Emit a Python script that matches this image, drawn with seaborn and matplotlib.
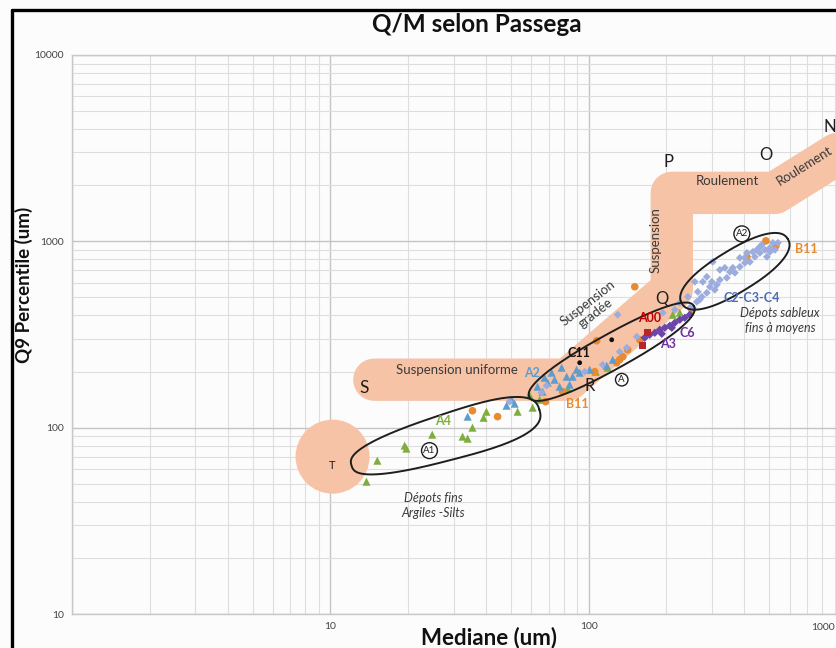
import numpy as np
import pandas as pd
import matplotlib
matplotlib.use("Agg")
import matplotlib.pyplot as plt
from matplotlib.lines import Line2D
from matplotlib.ticker import FixedLocator, FixedFormatter, LogLocator, NullFormatter
import seaborn as sns

# ---------------------------------------------------------------
# Samples: median grain size M (um) and Q9 percentile (um)
# ---------------------------------------------------------------
green_med = [13.8, 15.2, 19.4, 19.7, 24.8, 32.5, 34.0, 35.5, 39.2, 40.2, 53.1, 60.7,
             59.0, 64.6, 83.0, 106.4, 118.5, 211.7, 225.3]
green_q9 = [51.3, 66.5, 80.1, 77.2, 91.7, 89.5, 87.3, 100, 113, 121.8, 121.8, 128,
            150, 141.3, 161.9, 199.7, 209.8, 403.6, 413.7]

orange_med = [35.5, 44.4, 68.1, 79.3, 105.5, 107.4, 128.4, 135.5, 141.6, 150.8, 131.8,
              157.7, 250.7, 409.6, 485.3, 530.6]
orange_q9 = [123.3, 114.6, 137.9, 156.0, 199.7, 292.8, 223.1, 240.3, 261.9, 570.3, 231.6,
             296.3, 429.3, 826, 1006, 945]

blue_med = [34.0, 48.1, 50.3, 51.7, 63.4, 66.3, 71.9, 73.8, 77.2, 82.2, 86.7, 89.8,
            92.3, 84.4, 69.4, 100.9, 117.4, 123.9, 67.5, 78.6]
blue_q9 = [114.6, 131.2, 141.3, 134.5, 165.9, 156.0, 197.2, 180.9, 165.9, 187.7, 187.7,
           204.6, 197.2, 170.1, 174.3, 204.6, 215.0, 231.6, 185.4, 209.8]

lav_med = [65.7, 68.7, 49.4, 129.5, 153.5, 140.4, 131.8, 193.6, 215.5, 225.3, 253.0,
           113.3, 96.5, 262.2, 274.2, 286.6, 294.5, 264.5, 276.6, 313.4, 322.0, 342.6,
           352.0, 368.1, 384.8, 402.5, 420.7, 439.8, 460.0, 481.0, 503.0, 516.6, 432.2,
           489.6, 322.0, 286.6, 257.5, 409.6, 302.4, 460.0, 526.0, 384.8, 336.6, 242.0,
           269.0, 307.8, 361.5, 402.5, 447.9, 468.2, 503.0, 540.4, 299.8, 246.3]
lav_q9 = [154.1, 168.0, 137.9, 403.6, 307.6, 268.5, 255.6, 413.7, 429.3, 467.9, 440.0,
          217.7, 199.7, 473.8, 504, 529.6, 570.3, 536, 606.5, 584.5, 621.7, 637,
          686, 678, 730, 767, 776, 826, 867, 900, 923, 982, 878,
          826, 703, 645, 606.5, 867, 776, 934, 900, 815, 721, 504,
          486, 549.5, 721, 815, 900, 958, 878, 982, 606.5, 440]

purple_med = [172.4, 180.3, 188.4, 197.1, 206.1, 215.5, 225.3, 235.6, 191.9, 209.8, 246.3, 164.8]
purple_q9 = [315.3, 323, 335.4, 343.7, 352.2, 365.6, 379.5, 388.9, 319, 343.7, 403.6, 303.8]

red_med = [169.3, 161.9]
red_q9 = [323, 275]

black_med = [92.3, 122.8]
black_q9 = [223.1, 296.3]

# Passega C-M reference band (S-R-Q-P-O-N) and point T
band_med = [14.8, 83.0, 209.8, 209.8, 526.0, 1074.0]
band_q9 = [180.9, 180.9, 549.5, 1820.0, 1820.0, 3377.0]
t_med, t_q9 = 10.2, 69.9

x_ticks = [1, 10, 100, 1000]
x_tick_labels = ["", "10", "100", "1000"]
y_ticks = [10, 100, 1000, 10000]
y_tick_labels = ["10", "100", "1000", "10000"]

groups = ["A1-A4", "B11", "A2", "C2-C3-C4", "C6-A3", "A00", "C11"]
colors = {"A1-A4": "#7FAE3E", "B11": "#E98A2E", "A2": "#5F9CCE", "C2-C3-C4": "#9CADDD",
          "C6-A3": "#6C45A8", "A00": "#B8262B", "C11": "#111111"}
markers = {"A1-A4": "^", "B11": "o", "A2": "^", "C2-C3-C4": "D",
           "C6-A3": "D", "A00": "s", "C11": "o"}
sizes = {"A1-A4": 34, "B11": 30, "A2": 34, "C2-C3-C4": 16,
         "C6-A3": 18, "A00": 26, "C11": 12}

frames = []
for g, m, q in [("A1-A4", green_med, green_q9), ("B11", orange_med, orange_q9),
                ("A2", blue_med, blue_q9), ("C2-C3-C4", lav_med, lav_q9),
                ("C6-A3", purple_med, purple_q9), ("A00", red_med, red_q9),
                ("C11", black_med, black_q9)]:
    frames.append(pd.DataFrame({"med": m, "q9": q, "groupe": g}))
df = pd.concat(frames, ignore_index=True)
df["taille"] = df["groupe"].map(sizes)

# ---------------------------------------------------------------
sns.set_theme(style="white")
plt.rcParams["font.family"] = ["Lato", "DejaVu Sans"]

W, H, DPI = 836, 648, 100
fig = plt.figure(figsize=(W / DPI, H / DPI), dpi=DPI, facecolor="#FCFCFC")
ax = fig.add_axes([72 / W, 1 - 614 / H, 775 / W, 559 / H])
ax.set_facecolor("#FCFCFC")
ax.set_xscale("log")
ax.set_yscale("log")
ax.set_xlim(1, 1000)
ax.set_ylim(10, 10000)

# grid and ticks; the last x label would fall past the right edge,
# so it is written flush with the edge instead
ax.xaxis.set_major_locator(FixedLocator(x_ticks))
ax.xaxis.set_major_formatter(FixedFormatter(x_tick_labels[:-1] + [""]))
ax.yaxis.set_major_locator(FixedLocator(y_ticks))
ax.yaxis.set_major_formatter(FixedFormatter(y_tick_labels))
for axis in (ax.xaxis, ax.yaxis):
    axis.set_minor_locator(LogLocator(base=10, subs=np.arange(2, 10)))
    axis.set_minor_formatter(NullFormatter())
ax.grid(True, which="major", color="#C4C4C4", lw=1.0, zorder=0)
ax.grid(True, which="minor", color="#DEDEDE", lw=0.8, zorder=0)
ax.tick_params(which="both", length=0, labelsize=7.5, labelcolor="#444444", pad=6)
for sp in ax.spines.values():
    sp.set_color("#C8C8C8")
    sp.set_linewidth(1.0)
ax.set_axisbelow(True)
fig.text(835 / W, 1 - 627 / H, x_tick_labels[-1], fontsize=7.5, color="#444444",
         ha="right", va="center")

band_col = "#F6C3A6"
ax.plot(band_med, band_q9, color=band_col, lw=30.5, solid_capstyle="round",
        solid_joinstyle="round", zorder=1)
ax.scatter([t_med], [t_q9], s=2840, color=band_col, edgecolor="none", zorder=1)


def envelope(center, half_len, half_wid, angle, taper=0.0, n=2.6):
    cx, cy = ax.transData.transform(center)
    t = np.linspace(0, 2 * np.pi, 400)
    c, s = np.cos(t), np.sin(t)
    u = half_len * np.sign(c) * np.abs(c) ** (2 / n)
    v = half_wid * np.sign(s) * np.abs(s) ** (2 / n)
    v = v * (1 + taper * u / half_len)
    a = np.deg2rad(angle)
    X = cx + u * np.cos(a) - v * np.sin(a)
    Y = cy + u * np.sin(a) + v * np.cos(a)
    pts = ax.transData.inverted().transform(np.column_stack([X, Y]))
    ax.plot(pts[:, 0], pts[:, 1], color="#1E1E1E", lw=1.4, zorder=4)


# points
sns.scatterplot(data=df, x="med", y="q9", hue="groupe", style="groupe", size="taille",
                sizes=(12, 34), palette=colors, markers=markers, hue_order=groups,
                style_order=groups, edgecolor="none", linewidth=0, legend=False,
                ax=ax, zorder=3)

envelope((27.9, 88.4), 98, 23, 16.5, taper=0.15, n=2.7)
envelope((122.8, 255.6), 94, 17.5, 29.0, n=2.3)
envelope((368.1, 690.5), 62, 21, 31.5, n=2.3)

txt = "#3A3A3A"
# Passega letters
for lab, x, y, fs in [("S", 13.5, 163.8, 12.5), ("T", 10.2, 62.6, 8), ("R", 100.9, 168.0, 12),
                      ("Q", 191.9, 491.7, 12), ("P", 204.2, 2669, 12), ("O", 485.3, 2909, 12),
                      ("N", 860.0, 4111, 12)]:
    ax.text(x, y, lab, fontsize=fs, color="#1E1E1E", ha="center", va="center", zorder=6)

ax.text(30.8, 204.6, "Suspension uniforme", fontsize=9.5, color=txt, ha="center", va="center", zorder=6)
ax.text(181.9, 1019, "Suspension", fontsize=9.5, color=txt, rotation=90, ha="center", va="center", zorder=6)
ax.text(102.7, 440, "Suspension\ngradée", fontsize=9.5, color=txt, rotation=38, ha="center",
        va="center", linespacing=1.1, zorder=6)
ax.text(345.8, 2110, "Roulement", fontsize=9.5, color=txt, ha="center", va="center", zorder=6)
ax.text(687.6, 2541, "Roulement", fontsize=9.5, color=txt, rotation=32, ha="center", va="center", zorder=6)
ax.text(25.1, 38.2, "Dépots fins\nArgiles -Silts", fontsize=9, style="italic", color=txt,
        ha="center", va="center", linespacing=1.25, zorder=6)
ax.text(549.9, 374.8, "Dépots sableux\nfins à moyens", fontsize=9, style="italic", color=txt,
        ha="center", va="center", linespacing=1.25, zorder=6)

# circled markers
for lab, x, y in [("A1", 24.2, 75.3), ("A", 134.3, 180.9), ("A2", 391.7, 1097)]:
    ax.text(x, y, lab, fontsize=7, color="#1E1E1E", ha="center", va="center", zorder=7,
            bbox=dict(boxstyle="circle,pad=0.18", fc="#FCFCFC", ec="#1E1E1E", lw=1.0))

# group labels
for lab, x, y, col in [("A4", 27.2, 109, "#7FAE3E"), ("A2", 60.1, 197.2, "#5F9CCE"),
                       ("C11", 91.5, 252.6, "#111111"), ("B11", 90.7, 134.5, "#E98A2E"),
                       ("A00", 172.4, 388.9, "#C00000"), ("A3", 202.4, 282, "#7030A0"),
                       ("C6", 241.9, 323, "#7030A0"), ("C2-C3-C4", 428.2, 497.8, "#4A6DB3"),
                       ("B11", 693.4, 911, "#E98A2E")]:
    ax.text(x, y, lab, fontsize=9, fontweight="bold", color=col, ha="center", va="center", zorder=6)

ax.set_xlabel("Mediane (um)", fontsize=16, fontweight="bold", color="#111111")
ax.set_ylabel("Q9 Percentile (um)", fontsize=13.5, fontweight="bold", color="#111111")
ax.xaxis.set_label_coords(0.538, -0.023)
ax.yaxis.set_label_coords(-0.050, 0.589)

fig.text(477 / W, 1 - 25 / H, "Q/M selon Passega", fontsize=17.5, fontweight="bold",
         color="#111111", ha="center", va="center")

# outer frame (left and top edges)
fig.add_artist(Line2D([12 / W, 12 / W], [0, 1 - 10 / H], transform=fig.transFigure,
                      color="black", lw=2.4))
fig.add_artist(Line2D([12 / W, 1], [1 - 10 / H, 1 - 10 / H], transform=fig.transFigure,
                      color="black", lw=2.4))

fig.savefig("out.png", dpi=DPI, facecolor=fig.get_facecolor())
